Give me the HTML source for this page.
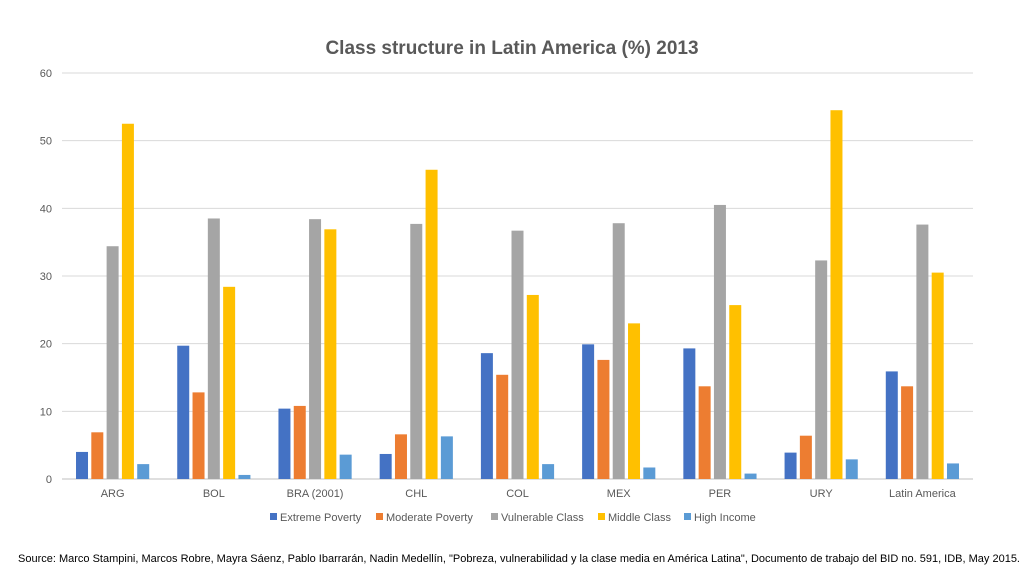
<!DOCTYPE html>
<html><head><meta charset="utf-8"><style>
body{margin:0;background:#fff;width:1024px;height:576px;overflow:hidden;font-family:"Liberation Sans",sans-serif}
</style></head><body>
<svg width="1024" height="576">
<text x="512" y="54" text-anchor="middle" font-size="19" font-weight="bold" fill="#595959">Class structure in Latin America (%) 2013</text>
<g id="grid"></g>
<g id="bars"></g>
<g id="xl"></g>
<g id="legend"></g>
<text x="18" y="562" font-size="11" fill="#000">Source: Marco Stampini, Marcos Robre, Mayra Sáenz, Pablo Ibarrarán, Nadin Medellín, "Pobreza, vulnerabilidad y la clase media en América Latina",  Documento de trabajo del BID no. 591, IDB, May 2015.</text>
</svg>
<script>
const categories=["ARG","BOL","BRA (2001)","CHL","COL","MEX","PER","URY","Latin America"];
const seriesNames=["Extreme Poverty","Moderate Poverty","Vulnerable Class","Middle Class","High Income"];
const extremePoverty=[4.0,19.7,10.4,3.7,18.6,19.9,19.3,3.9,15.9];
const moderatePoverty=[6.9,12.8,10.8,6.6,15.4,17.6,13.7,6.4,13.7];
const vulnerableClass=[34.4,38.5,38.4,37.7,36.7,37.8,40.5,32.3,37.6];
const middleClass=[52.5,28.4,36.9,45.7,27.2,23.0,25.7,54.5,30.5];
const highIncome=[2.2,0.6,3.6,6.3,2.2,1.7,0.8,2.9,2.3];
const yTicks=[0,10,20,30,40,50,60];
const series=[extremePoverty,moderatePoverty,vulnerableClass,middleClass,highIncome];
const colors=["#4472C4","#ED7D31","#A5A5A5","#FFC000","#5B9BD5"];
const NS="http://www.w3.org/2000/svg";
const x0=62,x1=973,y0=479,y1=73,yMax=60;
const yS=v=>y0-(y0-y1)*v/yMax;
const cw=(x1-x0)/categories.length;
const xC=i=>x0+cw*(i+0.5);
function mk(t,a,p){const e=document.createElementNS(NS,t);for(const k in a)e.setAttribute(k,a[k]);p.appendChild(e);return e;}
const g=document.getElementById('grid');
yTicks.forEach(t=>{
 const l=mk('line',{x1:x0,x2:x1,y1:yS(t),y2:yS(t),stroke:t===0?'#BFBFBF':'#D9D9D9','stroke-width':1},g);
 
 
 const tx=mk('text',{x:52,y:yS(t)+4,'text-anchor':'end','font-size':11,fill:'#595959'},g);
 tx.textContent=t;
 
 
});
const b=document.getElementById('bars');
const bw=12,step=15.3;
categories.forEach((c,i)=>{
 series.forEach((s,j)=>{
  const x=xC(i)+(j-2)*step-bw/2;
  const r=mk('rect',{x:x,y:yS(s[i]),width:bw,height:yS(0)-yS(s[i]),fill:colors[j]},b);
  
  
 });
 const t=mk('text',{x:xC(i),y:497,'text-anchor':'middle','font-size':11,fill:'#595959'},document.getElementById('xl'));
 t.textContent=c;
 
 
});
const lg=document.getElementById('legend');
const lx=[270,376,491,598,684];
seriesNames.forEach((n,j)=>{
 const r=mk('rect',{x:lx[j],y:513,width:7,height:7,fill:colors[j]},lg);
 
 
 const t=mk('text',{x:lx[j]+10,y:521,'font-size':11,fill:'#595959'},lg);
 t.textContent=n;
 
 
});
</script>
</body></html>
